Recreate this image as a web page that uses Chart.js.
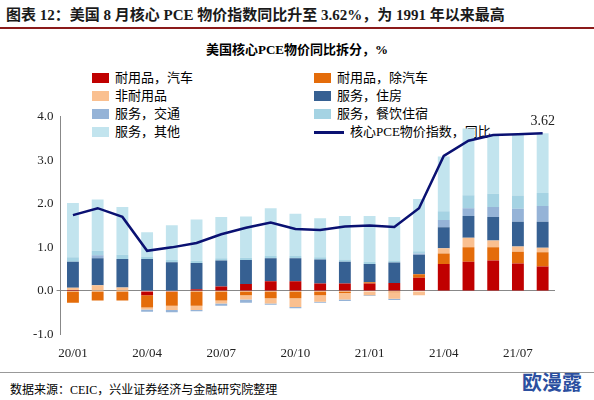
<!DOCTYPE html>
<html><head><meta charset="utf-8">
<script src="https://cdn.jsdelivr.net/npm/chart.js@4"></script>
<style>
body{margin:0;width:594px;height:400px;background:#fff;position:relative;overflow:hidden;font-family:"Liberation Serif","Noto Sans CJK SC",serif;}
#hdr{position:absolute;left:6px;top:3px;font-size:15px;font-weight:bold;color:#1a1a1a;}
#hl{position:absolute;left:0;top:27px;width:594px;height:2px;background:#8b1a1a;}
#ttl{position:absolute;left:0;width:594px;top:39px;text-align:center;font-size:13px;font-weight:bold;}
#leg{position:absolute;left:92px;top:69px;font-size:13px;line-height:18px;}
.it{position:absolute;white-space:nowrap;}
.sw{display:inline-block;width:17px;height:10px;margin-right:6px;vertical-align:-1px;}
#cw{position:absolute;left:0;top:106px;width:594px;height:258px;}
#src{position:absolute;left:10px;top:380px;font-size:12px;}
#wm{position:absolute;right:12px;top:367px;font-size:20px;font-weight:bold;color:#2b4fa0;font-family:"Noto Sans CJK SC";}
#bl{position:absolute;left:0;top:372px;width:594px;height:1px;background:#999;}
</style></head><body>
<div id="hdr">图表 12：美国 8 月核心 PCE 物价指数同比升至 3.62%，为 1991 年以来最高</div>
<div id="hl"></div>
<div id="ttl">美国核心PCE物价同比拆分，%</div>
<div id="leg"></div>
<div id="cw"><canvas id="c"></canvas></div>
<div id="bl"></div>
<div id="src">数据来源：CEIC，兴业证券经济与金融研究院整理</div>
<div id="wm">欧漫露</div>
<script>
const labels=["20/01","20/02","20/03","20/04","20/05","20/06","20/07","20/08","20/09","20/10","20/11","20/12","21/01","21/02","21/03","21/04","21/05","21/06","21/07","21/08"];
const tickLabels=["20/01","20/04","20/07","20/10","21/01","21/04","21/07"];
const durableVehicles=[0.02,0,0,-0.1,-0.02,0.04,0.1,0.16,0.22,0.22,0.17,0.17,0.17,0.18,0.3,0.62,0.67,0.7,0.63,0.56];
const durableExVehicles=[-0.27,-0.22,-0.22,-0.28,-0.32,-0.34,-0.22,-0.1,-0.17,-0.17,-0.1,-0.05,0.03,-0.03,0.08,0.24,0.33,0.3,0.27,0.33];
const nondurables=[0.05,0.13,0.08,-0.05,-0.1,-0.1,-0.07,-0.1,-0.12,-0.2,-0.15,-0.15,-0.1,-0.15,-0.1,0.12,0.22,0.16,0.12,0.1];
const servTransport=[0,0.07,0,-0.05,-0.05,-0.03,-0.05,-0.07,-0.03,-0.03,-0.02,-0.03,-0.02,-0.03,0.03,0.17,0.18,0.23,0.3,0.36];
const servHousing=[0.6,0.62,0.65,0.73,0.66,0.6,0.6,0.55,0.53,0.53,0.55,0.5,0.42,0.47,0.45,0.48,0.5,0.54,0.57,0.6];
const servFood=[0.1,0.1,0.1,0.05,0.05,0.05,0.05,0.05,0.05,0.05,0.05,0.05,0.05,0.05,0.05,0.2,0.3,0.3,0.3,0.3];
const servOther=[1.25,1.18,1.1,0.57,0.8,0.95,0.95,0.95,1.1,0.97,0.9,1.0,1.05,1.0,1.2,1.26,1.53,1.33,1.39,1.37];
const corePCE=[1.74,1.9,1.7,0.92,1.0,1.1,1.3,1.45,1.57,1.42,1.4,1.48,1.5,1.47,1.9,3.1,3.45,3.58,3.6,3.62];
const yTicks=[-1,0,1,2,3,4];

const series=[["耐用品，汽车",durableVehicles,"#C00000"],["耐用品，除汽车",durableExVehicles,"#E46C0A"],["非耐用品",nondurables,"#FAC090"],["服务，住房",servHousing,"#366092"],["服务，交通",servTransport,"#95B3D7"],["服务，餐饮住宿",servFood,"#A5D3E3"],["服务，其他",servOther,"#C2E4EE"]];
const legOrder=[["耐用品，汽车","#C00000",0,0],["耐用品，除汽车","#E46C0A",1,0],["非耐用品","#FAC090",0,1],["服务，住房","#366092",1,1],["服务，交通","#95B3D7",0,2],["服务，餐饮住宿","#A5D3E3",1,2],["服务，其他","#C2E4EE",0,3]];
const leg=document.getElementById('leg');
legOrder.forEach(([n,c,col,row])=>{leg.innerHTML+=`<div class="it" style="left:${col*222}px;top:${row*18}px"><span class="sw" style="background:${c}"></span>${n}</div>`;});
leg.innerHTML+=`<div class="it" style="left:222px;top:54px"><span style="display:inline-block;position:relative;width:30px;height:10px;margin-right:6px;vertical-align:-1px"><span style="position:absolute;left:0;top:4px;width:30px;height:3px;background:#0A1172"></span></span>核心PCE物价指数，同比</div>`;

const ds=series.map(([n,d,c])=>({type:'bar',label:n,data:d,backgroundColor:c,stack:'s',barPercentage:0.48,categoryPercentage:1,order:2}));
ds.push({type:'line',label:'核心PCE物价指数，同比',data:corePCE,borderColor:'#0A1172',borderWidth:2.5,pointRadius:0,tension:0,order:1});
const lastLabel={id:'ll',afterDatasetsDraw(ch){const m=ch.getDatasetMeta(7);const p=m.data[m.data.length-1];const x=ch.ctx;x.save();x.font='14px "Liberation Serif"';x.fillStyle='#222';x.textAlign='center';x.fillText(corePCE[corePCE.length-1].toFixed(2),p.x,p.y-8);x.restore();}};
new Chart(document.getElementById('c'),{data:{labels,datasets:ds},plugins:[lastLabel],
options:{responsive:true,maintainAspectRatio:false,animation:false,
layout:{padding:{left:30,right:39,top:8,bottom:0}},
plugins:{legend:{display:false},tooltip:{enabled:false}},
scales:{x:{grid:{display:false},border:{display:false},ticks:{autoSkip:false,maxRotation:0,color:'#222',font:{family:'Liberation Serif',size:13},callback:(v,i)=>tickLabels.includes(labels[i])?labels[i]:''}},
y:{min:-1,max:4,afterBuildTicks:a=>{a.ticks=yTicks.map(v=>({value:v}));},grid:{drawOnChartArea:true,color:c=>c.tick&&c.tick.value===0?'#888':'rgba(0,0,0,0)',drawTicks:true,tickLength:4},border:{color:'#888'},ticks:{color:'#222',font:{family:'Liberation Serif',size:13},callback:v=>v.toFixed(1)}}}}});
</script></body></html>
